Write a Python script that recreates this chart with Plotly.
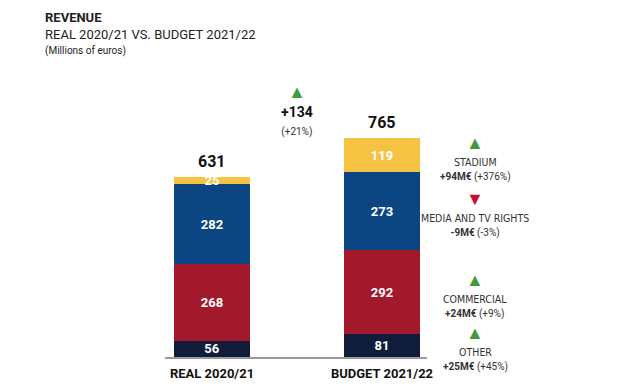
import plotly.graph_objects as go

categories = ["REAL 2020/21", "BUDGET 2021/22"]
segments = ["OTHER", "COMMERCIAL", "MEDIA AND TV RIGHTS", "STADIUM"]
other = [56, 81]
commercial = [268, 292]
media = [282, 273]
stadium = [25, 119]

series = [other, commercial, media, stadium]
colors = ["#0F1D3B", "#A3182A", "#0B4683", "#F5C242"]

L, R, T, B = 165, 213, 80, 31
W, H = 640, 388
PW = W - L - R
PH = H - T - B
xpos = [0, 1]

fig = go.Figure()
for name, vals, col in zip(segments, series, colors):
    fig.add_trace(go.Bar(
        x=xpos, y=vals, name=name, marker=dict(color=col, line=dict(width=0)),
        width=0.45, text=[f"<b>{v}</b>" for v in vals], textposition="inside",
        insidetextanchor="middle", textangle=0,
        textfont=dict(color="white", size=13, family="Roboto"),
        hoverinfo="skip",
    ))

totals = [sum(s[i] for s in series) for i in range(2)]
for i, t in enumerate(totals):
    fig.add_annotation(x=xpos[i], y=t, text=f"<b>{t}</b>", showarrow=False, yanchor="bottom",
                       yshift=4, font=dict(size=16, color="#111", family="Roboto"))

# overall delta
delta = totals[1] - totals[0]
pct = round(delta / totals[0] * 100)
mid_x = (xpos[0] + xpos[1]) / 2
fig.add_annotation(x=mid_x, y=totals[1], text="▲", showarrow=False, yanchor="bottom",
                   yshift=34, borderpad=0, font=dict(size=18, color="#3F9A3A"))
fig.add_annotation(x=mid_x, y=totals[1], yanchor="middle", yshift=17, showarrow=False,
                   text=(f"<b>+{delta}</b><br><span style='font-size:10px;color:#333'>"
                         f"(+{pct}%)</span>"),
                   borderpad=0, font=dict(size=14, color="#111", family="Roboto"))

# right side change labels
rx = (475 - L) / PW
cum = 0
for name, vals in zip(segments, series):
    center = cum + vals[1] / 2
    cum += vals[1]
    ch = vals[1] - vals[0]
    p = round(ch / vals[0] * 100)
    up = ch >= 0
    sign = "+" if up else "-"
    fig.add_annotation(
        xref="paper", x=rx, xanchor="center", y=center, yanchor="top", yshift=0,
        text=(f"{name}<br><span style='font-size:10px;font-family:Roboto'>"
              f"<b>{sign}{abs(ch)}M€</b> ({sign}{abs(p)}%)</span>"),
        showarrow=False, align="center", borderpad=0,
        font=dict(size=10.5, color="#333", family="DejaVu Sans Condensed, Roboto"))
    fig.add_annotation(xref="paper", x=rx, xanchor="center", y=center, yanchor="bottom",
                       text="▲" if up else "▼", showarrow=False, yshift=0, borderpad=0,
                       font=dict(size=18, color="#3F9A3A" if up else "#C8102E"))

# titles
for txt, y, size in [("<b>REVENUE</b>", 18, 13), ("REAL 2020/21 VS. BUDGET 2021/22", 35, 13),
                     ("(Millions of euros)", 51, 10)]:
    fig.add_annotation(xref="paper", yref="paper", x=(45 - L) / PW, y=(H - B - y) / PH,
                       text=txt, showarrow=False, xanchor="left", yanchor="middle",
                       xshift=-2, font=dict(size=size, color="#222", family="Roboto"))

fig.update_layout(
    width=W, height=H, barmode="stack", showlegend=False,
    plot_bgcolor="white", paper_bgcolor="white",
    margin=dict(l=L, r=R, t=T, b=B, autoexpand=False),
    uniformtext=dict(minsize=12, mode="show"),
    xaxis=dict(range=[(165 - 212) / 170, (427 - 212) / 170], tickvals=xpos,
               ticktext=[f"<b>{c}</b>" for c in categories], showline=True,
               linecolor="#9a9a9a", linewidth=2, showgrid=False, zeroline=False, ticks="",
               ticklabelstandoff=3, automargin=False,
               tickfont=dict(size=13, color="#111", family="Roboto")),
    yaxis=dict(range=[0, PH / 0.286], visible=False, showgrid=False, zeroline=False,
               automargin=False),
)

fig.write_html("out.html", config={"displayModeBar": False},
               post_script="document.body.style.margin='0';")
